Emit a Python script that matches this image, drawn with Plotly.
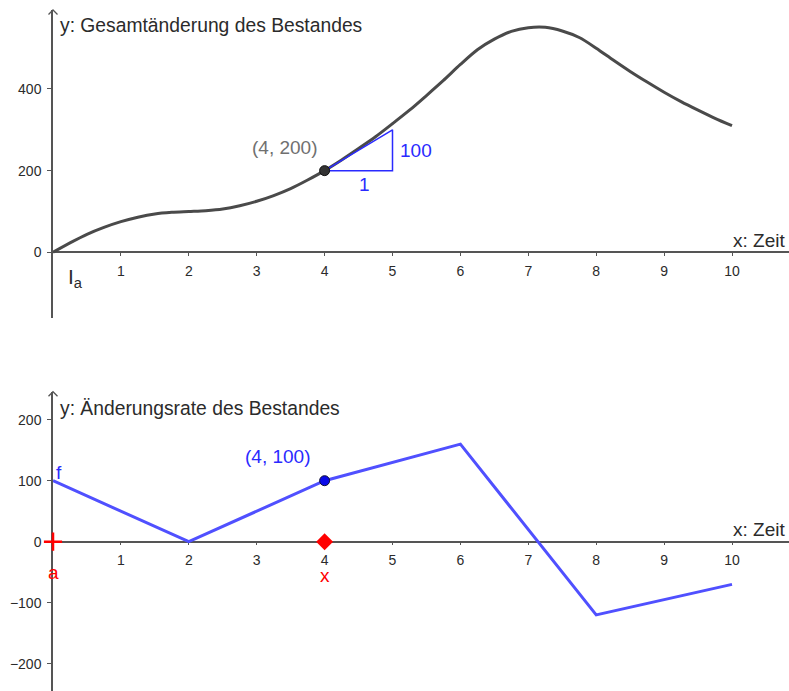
import plotly.graph_objects as go

# ---- data ----
# lower panel: rate of change f (piecewise linear)
rate_x = [0, 2, 4, 6, 8, 10]
rate_y = [100, 0, 100, 160, -120, -70]

total_x = [0, 0.25, 0.5, 0.75, 1, 1.25, 1.5, 1.75, 2, 2.25, 2.5, 2.75, 3, 3.25, 3.5, 3.75,
           4, 4.25, 4.5, 4.75, 5, 5.25, 5.5, 5.75, 6, 6.25, 6.5, 6.75, 7, 7.25, 7.5, 7.75,
           8, 8.25, 8.5, 8.75, 9, 9.25, 9.5, 9.75, 10]
total_y = [0, 23, 44, 61, 75, 86, 94, 98, 100, 102, 106, 114, 125, 139, 156, 177,
           200, 226, 254, 283, 315, 348, 384, 421, 460, 496, 522, 541, 550, 551, 542, 526,
           500, 471, 443, 417, 392, 369, 348, 328, 310]

# highlighted points
pt_top = (4, 200)
pt_bottom = (4, 100)
slope_x = [4, 5, 5, 4]
slope_y = [200, 200, 300, 200]
start_a = (0, 0)
marker_x = (4, 0)

x_ticks = [1, 2, 3, 4, 5, 6, 7, 8, 9, 10]
top_yticks = [0, 200, 400]
bot_yticks = [-200, -100, 0, 100, 200]

# ---- geometry ----
W, H = 789, 691
L = 53
PX_X = 67.9
XMAX = (W - L) / PX_X
TOP_PX = 0.4083
BOT_PX = 0.61
TOP_DOM = [1 - 318 / H, 1 - 10 / H]
BOT_DOM = [0, 1 - 391.7 / H]
TOP_YR = [(252.3 - 318) / TOP_PX, (252.3 - 10) / TOP_PX]
BOT_YR = [(541.7 - 691) / BOT_PX, (541.7 - 391.7) / BOT_PX]

AX = "#555555"
TXT = "#2b2b2b"
BLUE_LINE = "#5050ff"
BLUE = "#2a2aff"
RED = "#ff0000"
FONT = "Liberation Sans, Arial, sans-serif"

fig = go.Figure()

fig.add_trace(go.Scatter(x=total_x, y=total_y, mode="lines",
                         line=dict(color="#4a4a4a", width=3, shape="spline", smoothing=0.8),
                         xaxis="x", yaxis="y", hoverinfo="skip"))
fig.add_trace(go.Scatter(x=slope_x, y=slope_y, mode="lines",
                         line=dict(color=BLUE, width=1.5),
                         xaxis="x", yaxis="y", hoverinfo="skip"))
fig.add_trace(go.Scatter(x=[pt_top[0]], y=[pt_top[1]], mode="markers",
                         marker=dict(size=10, color="#333333", line=dict(color="#111111", width=1)),
                         xaxis="x", yaxis="y"))

fig.add_trace(go.Scatter(x=rate_x, y=rate_y, mode="lines",
                         line=dict(color=BLUE_LINE, width=3),
                         xaxis="x2", yaxis="y2", hoverinfo="skip"))
fig.add_trace(go.Scatter(x=[pt_bottom[0]], y=[pt_bottom[1]], mode="markers",
                         marker=dict(size=10, color="#0a0ae8", line=dict(color="#111133", width=1)),
                         xaxis="x2", yaxis="y2"))
fig.add_trace(go.Scatter(x=[start_a[0]], y=[start_a[1]], mode="markers",
                         marker=dict(size=13, symbol="cross-thin", color=RED,
                                     line=dict(color=RED, width=2.5)),
                         xaxis="x2", yaxis="y2", cliponaxis=False))
fig.add_trace(go.Scatter(x=[marker_x[0]], y=[marker_x[1]], mode="markers",
                         marker=dict(size=13, symbol="diamond", color=RED),
                         xaxis="x2", yaxis="y2", cliponaxis=False))

# arrow chevrons at the top of both y axes (pixel-sized, anchored at the axis top)
for dom in (TOP_DOM, BOT_DOM):
    fig.add_shape(type="path", xref="paper", yref="paper",
                  xsizemode="pixel", ysizemode="pixel", xanchor=0, yanchor=dom[1],
                  path="M-4.5,-4.5 L0,0 L4.5,-4.5",
                  line=dict(color=AX, width=1.3))

axis_common = dict(showgrid=False, zeroline=False, showline=True, linecolor=AX, linewidth=1.5,
                   ticks="outside", tickcolor=AX, tickwidth=1, layer="below traces",
                   tickfont=dict(family=FONT, size=14, color=TXT))

fig.update_layout(
    width=W, height=H, margin=dict(l=L, r=0, t=0, b=0),
    paper_bgcolor="white", plot_bgcolor="white", showlegend=False,
    xaxis=dict(domain=[0, 1], range=[0, XMAX], anchor="free", position=1 - 252.3 / H,
               tickvals=x_ticks, ticklen=3, ticklabelstandoff=3, **axis_common),
    yaxis=dict(domain=TOP_DOM, range=TOP_YR, anchor="x", tickvals=top_yticks,
               ticklen=4, ticklabelstandoff=3, **axis_common),
    xaxis2=dict(domain=[0, 1], range=[0, XMAX], anchor="free", position=1 - 541.7 / H,
                tickvals=x_ticks, ticklen=3, ticklabelstandoff=3, **axis_common),
    yaxis2=dict(domain=BOT_DOM, range=BOT_YR, anchor="x2", tickvals=bot_yticks,
                ticklen=4, ticklabelstandoff=3, **axis_common),
)

def txt(x, y, s, color, xref="x", yref="y", xanchor="center", size=19):
    fig.add_annotation(x=x, y=y, xref=xref, yref=yref, text=s, showarrow=False,
                       xanchor=xanchor, yanchor="middle",
                       font=dict(family=FONT, size=size, color=color))

# upper panel texts
txt(0.078, 556.7, "y: Gesamtänderung des Bestandes", TXT, xanchor="left", size=19.3)
txt(XMAX - 0.03, 30, "x: Zeit", TXT, xanchor="right")
txt(3.41, 257, "(4, 200)", "#707070")
txt(4.59, 165, "1", BLUE)
txt(5.08, 250, "100", BLUE, xanchor="left")
txt(0.19, -62, "I<sub>a</sub>", TXT, xanchor="left", size=21)

# lower panel texts
txt(0.078, 219, "y: Änderungsrate des Bestandes", TXT, xref="x2", yref="y2", xanchor="left", size=19.3)
txt(XMAX - 0.03, 20.8, "x: Zeit", TXT, xref="x2", yref="y2", xanchor="right")
txt(3.31, 140.5, "(4, 100)", BLUE, xref="x2", yref="y2")
txt(0.09, 114, "f", BLUE, xref="x2", yref="y2")
txt(0.0, -50, "a", RED, xref="x2", yref="y2")
txt(4.0, -54.6, "x", RED, xref="x2", yref="y2")

fig.write_html("out.html", config={"displayModeBar": False},
               post_script="document.body.style.margin='0';document.body.style.overflow='hidden';")
